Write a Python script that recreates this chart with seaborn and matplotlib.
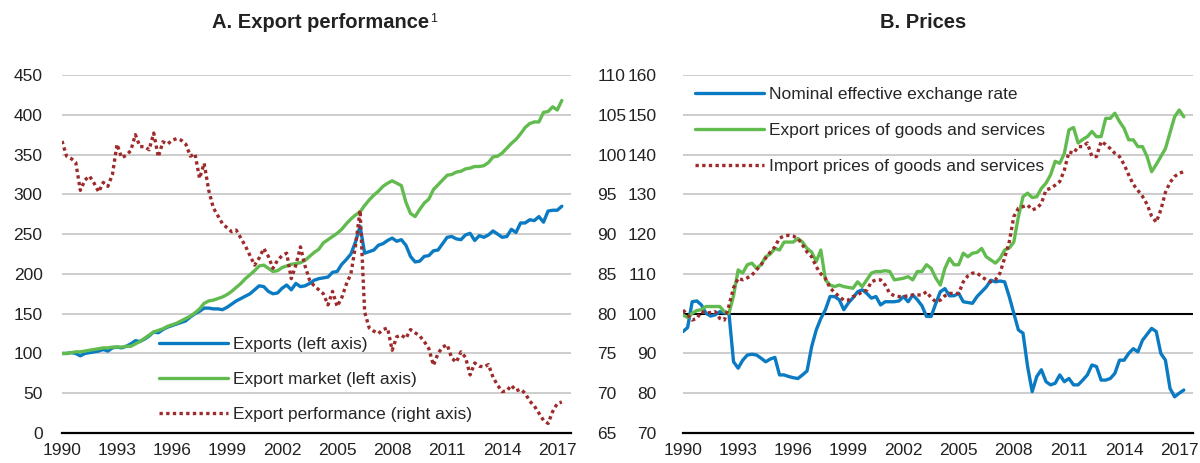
import numpy as np
import pandas as pd
import matplotlib
matplotlib.use("Agg")
import matplotlib.pyplot as plt
import seaborn as sns

# ---------------------------------------------------------------
# Data (quarterly, 1990Q1 - 2017Q2)
# ---------------------------------------------------------------
quarters = np.arange(1990, 2017.5, 0.25)

# Panel A - left axis
exports = [100, 100, 101, 100, 97, 100, 101, 102, 103, 105, 103, 107,
           108, 107, 109, 112, 116, 115, 118, 122, 127, 126, 130, 133,
           135, 137, 139, 141, 146, 150, 153, 157, 157, 156, 156, 155,
           158, 162, 166, 169, 172, 175, 180, 185, 184, 178, 175, 176,
           182, 186, 180, 188, 184, 185, 188, 192, 194, 195, 196, 202,
           203, 212, 218, 225, 240, 260, 226, 228, 230, 236, 238, 242,
           245, 241, 243, 236, 222, 215, 216, 222, 223, 229, 230, 238,
           246, 247, 244, 243, 249, 251, 242, 248, 246, 249, 254, 250,
           246, 247, 256, 252, 264, 264, 268, 267, 272, 265, 279, 280,
           280, 285]
export_market = [100, 100, 101, 102, 102, 103, 104, 105, 106, 107, 107, 108,
                 108, 108, 109, 109, 112, 115, 119, 123, 127, 129, 131, 134,
                 136, 138, 141, 144, 147, 151, 156, 163, 166, 167, 169, 171,
                 174, 178, 183, 188, 194, 199, 204, 210, 211, 207, 203, 204,
                 208, 210, 212, 213, 214, 217, 222, 227, 231, 239, 243, 247,
                 251, 256, 263, 269, 274, 278, 286, 293, 299, 304, 310, 314,
                 317, 314, 311, 290, 276, 272, 281, 289, 294, 306, 312, 318,
                 324, 325, 328, 329, 332, 333, 335, 335, 336, 340, 347, 348,
                 352, 358, 364, 369, 376, 384, 389, 391, 391, 403, 404, 410,
                 406, 418]
# Panel A - right axis
export_perf = [101.7, 99.8, 99.5, 99.0, 95.5, 96.8, 97.3, 96.4, 95.3, 96.5, 96.0, 97.5,
               101.3, 99.6, 99.9, 100.5, 102.5, 101.0, 101.0, 100.6, 102.7, 99.7, 101.6, 101.3,
               101.8, 102.0, 101.8, 101.3, 99.8, 100.1, 97.0, 98.9, 95.5, 93.3, 92.3, 91.3,
               90.8, 90.3, 90.5, 89.5, 88.5, 87.3, 86.1, 87.0, 88.2, 87.2, 85.7, 86.7,
               87.3, 87.6, 84.4, 86.1, 88.4, 86.0, 84.2, 83.5, 83.0, 82.5, 81.1, 82.8,
               80.9, 82.0, 83.7, 85.0, 88.5, 93.0, 80.2, 78.2, 77.8, 77.5, 78.0, 78.2,
               75.4, 77.1, 77.3, 76.9, 78.0, 77.6, 77.2, 76.5, 75.6, 73.5, 75.0, 75.8,
               76.1, 74.4, 73.9, 75.2, 74.5, 72.3, 73.8, 73.4, 73.3, 73.6, 72.0, 71.0,
               70.2, 70.3, 71.0, 70.3, 70.5, 70.0, 69.0, 68.4, 67.5, 66.6, 66.2, 67.7,
               68.7, 68.9]

# Panel B
neer = [95.5, 96.5, 103.0, 103.2, 102.2, 100.1, 99.4, 99.7, 100.5, 100.2, 100.1, 87.9,
        86.3, 88.3, 89.6, 89.8, 89.6, 88.8, 87.9, 88.6, 89.0, 84.6, 84.6, 84.2,
        83.9, 83.7, 84.6, 85.6, 91.7, 95.9, 98.8, 101.0, 104.3, 104.3, 103.5, 101.0,
        102.7, 104.0, 105.5, 106.0, 105.1, 103.9, 104.3, 102.2, 103.0, 103.0, 103.0, 103.2,
        104.3, 103.0, 104.7, 103.5, 102.0, 99.3, 99.3, 102.5, 105.5, 106.3, 104.5, 104.5,
        105.1, 103.0, 102.8, 102.6, 104.3, 105.5, 106.7, 108.4, 108.0, 108.2, 108.0, 104.3,
        100.1, 95.9, 95.1, 86.7, 80.4, 84.2, 85.9, 82.9, 82.1, 82.5, 84.6, 82.9,
        83.7, 82.1, 82.1, 83.3, 84.6, 87.1, 86.7, 83.3, 83.3, 83.7, 85.0, 88.3,
        88.3, 90.0, 91.2, 90.4, 93.3, 94.8, 96.3, 95.5, 90.0, 88.3, 81.2, 79.1,
        80.0, 80.8]
export_prices = [99.7, 99.0, 100.1, 100.8, 101.0, 101.8, 101.8, 101.8, 101.8, 100.5, 100.1, 104.5,
                 111.0, 110.2, 112.3, 112.7, 111.4, 112.3, 114.3, 115.0, 116.4, 116.0, 118.0, 118.0,
                 118.0, 118.9, 118.0, 116.4, 115.5, 113.1, 116.0, 108.5, 107.2, 106.8, 107.2, 106.8,
                 106.6, 106.4, 108.0, 106.8, 108.5, 110.2, 110.6, 110.6, 110.8, 110.6, 108.5, 108.7,
                 108.9, 109.3, 108.5, 110.6, 110.6, 112.3, 111.4, 109.0, 107.2, 111.4, 113.9, 112.3,
                 112.3, 115.2, 114.3, 115.2, 115.4, 116.4, 114.3, 113.5, 112.7, 113.9, 116.0, 116.5,
                 118.0, 124.4, 129.4, 130.3, 129.2, 129.4, 131.5, 132.8, 134.9, 138.3, 137.8, 140.3,
                 146.2, 146.8, 142.9, 143.8, 144.5, 145.8, 144.5, 144.5, 149.1, 149.1, 150.4, 148.3,
                 146.6, 143.7, 143.7, 142.0, 142.0, 139.5, 135.7, 137.5, 139.5, 141.5, 145.5, 149.5,
                 151.2, 149.5]
import_prices = [100.9, 99.7, 98.4, 98.8, 100.5, 100.1, 100.3, 100.5, 98.8, 98.4, 102.0, 106.5,
                 108.9, 108.5, 109.0, 109.7, 111.0, 112.3, 114.0, 115.5, 116.8, 119.0, 119.5, 119.7,
                 119.5, 118.9, 117.3, 115.5, 114.3, 111.8, 110.0, 108.9, 106.5, 105.3, 104.3, 103.4,
                 103.4, 104.3, 104.7, 105.5, 105.9, 108.0, 108.5, 108.5, 107.2, 105.1, 104.5, 104.3,
                 104.3, 104.5, 104.7, 104.7, 104.7, 105.5, 104.0, 103.0, 103.4, 104.5, 105.1, 105.1,
                 105.1, 108.0, 109.5, 110.2, 110.2, 109.3, 108.5, 108.0, 108.5, 110.2, 114.0, 118.0,
                 124.4, 126.5, 126.9, 127.3, 126.1, 126.5, 127.7, 131.1, 131.5, 132.3, 133.2, 136.1,
                 140.7, 140.3, 142.0, 142.0, 142.9, 139.5, 139.5, 143.3, 142.5, 141.5, 140.3, 139.5,
                 137.5, 134.9, 132.5, 131.0, 129.5, 127.5, 124.5, 123.0, 126.1, 130.5, 133.0, 134.5,
                 135.3, 135.7]

year_ticks = list(range(1990, 2018, 3))
left_ticks_a = list(range(0, 451, 50))
right_ticks_a = list(range(65, 111, 5))
ticks_b = list(range(70, 161, 10))

# ---------------------------------------------------------------
# Style
# ---------------------------------------------------------------
sns.set_theme(style="white")
plt.rcParams['font.family'] = ['Liberation Sans', 'DejaVu Sans']

BLUE = '#0a7bc2'
GREEN = '#62bb4f'
RED = '#9e2b2b'
GRID = '#c9c9c9'
TXT = '#222222'
FS = 12.5
LW = 2.4
DOT = (0, (1, 1))

fig = plt.figure(figsize=(12, 4.63), dpi=100)
axA = fig.add_axes([62 / 1200, 30 / 463, 509 / 1200, 358 / 463])
axB = fig.add_axes([683 / 1200, 30 / 463, 510 / 1200, 358 / 463])


def style_axis(ax, ticks, lim, pad=14):
    ax.set_xlim(1990, 2017.75)
    ax.set_ylim(*lim)
    ax.set_yticks(ticks)
    ax.set_xticks(year_ticks)
    ax.set_xticklabels([str(y) for y in year_ticks])
    for s in ['top', 'left', 'right']:
        ax.spines[s].set_visible(False)
    ax.spines['bottom'].set_color('black')
    ax.spines['bottom'].set_linewidth(1.6)
    ax.tick_params(axis='x', direction='in', length=5, width=1.4, color='black',
                   pad=7, labelsize=FS, labelcolor=TXT)
    ax.tick_params(axis='y', length=0, pad=pad, labelsize=FS, labelcolor=TXT)
    ax.grid(False)
    for t in ticks:
        if t != lim[0]:
            ax.axhline(t, color=GRID, lw=1.3, zorder=0)
    ax.set_xlabel('')
    ax.set_ylabel('')


# ---------------------------------------------------------------
# Panel A: Export performance
# ---------------------------------------------------------------
dfA = pd.DataFrame({'q': quarters, 'exports': exports, 'market': export_market,
                    'perf': export_perf})
style_axis(axA, left_ticks_a, (0, 450))
sns.lineplot(data=dfA, x='q', y='exports', ax=axA, color=BLUE, lw=LW)
sns.lineplot(data=dfA, x='q', y='market', ax=axA, color=GREEN, lw=LW)
lA1, lA2 = axA.lines[-2], axA.lines[-1]

# right axis for export performance
axA2 = axA.twinx()
sns.lineplot(data=dfA, x='q', y='perf', ax=axA2, color=RED, lw=LW, linestyle=DOT)
lA3 = axA2.lines[-1]
axA2.set_ylim(65, 110)
axA2.set_yticks(right_ticks_a)
for s in ['top', 'left', 'right', 'bottom']:
    axA2.spines[s].set_visible(False)
axA2.tick_params(axis='y', length=0, pad=19, labelsize=FS, labelcolor=TXT)
axA2.set_ylabel('')
axA2.grid(False)
axA.set_xlabel('')
axA.set_ylabel('')

axA2.legend(handles=[lA1, lA2, lA3],
            labels=['Exports (left axis)', 'Export market (left axis)',
                    'Export performance (right axis)'],
            loc='upper left', bbox_to_anchor=(0.19, 0.268), frameon=False,
            fontsize=FS, handlelength=4.0, handletextpad=0.3, labelspacing=1.15,
            borderpad=0, borderaxespad=0)

# ---------------------------------------------------------------
# Panel B: Prices
# ---------------------------------------------------------------
dfB = pd.DataFrame({'q': quarters, 'neer': neer, 'xp': export_prices,
                    'mp': import_prices})
style_axis(axB, ticks_b, (70, 160), pad=19)
axB.axhline(100, color='black', lw=1.5, zorder=1)
sns.lineplot(data=dfB, x='q', y='neer', ax=axB, color=BLUE, lw=LW)
lB1 = axB.lines[-1]
sns.lineplot(data=dfB, x='q', y='xp', ax=axB, color=GREEN, lw=LW)
lB2 = axB.lines[-1]
sns.lineplot(data=dfB, x='q', y='mp', ax=axB, color=RED, lw=LW, linestyle=DOT)
lB3 = axB.lines[-1]
axB.set_xlabel('')
axB.set_ylabel('')

axB.legend(handles=[lB1, lB2, lB3],
           labels=['Nominal effective exchange rate',
                   'Export prices of goods and services',
                   'Import prices of goods and services'],
           loc='upper left', bbox_to_anchor=(0.023, 0.966), frameon=False,
           fontsize=FS, handlelength=4.0, handletextpad=0.3, labelspacing=1.2,
           borderpad=0, borderaxespad=0)

# Titles (footnote marker drawn separately, not bold)
tA = fig.text(321 / 1200, 1 - 22 / 463, 'A. Export performance',
              ha='center', va='center', fontsize=14.5, fontweight='bold', color=TXT)
axA.annotate('1', xy=(1, 1), xycoords=tA, xytext=(0.5, 0),
             textcoords='offset points', ha='left', va='top',
             fontsize=9, color=TXT, annotation_clip=False)
fig.text(923 / 1200, 1 - 22 / 463, 'B. Prices',
         ha='center', va='center', fontsize=14.5, fontweight='bold', color=TXT)

fig.savefig('out.png', dpi=100)
